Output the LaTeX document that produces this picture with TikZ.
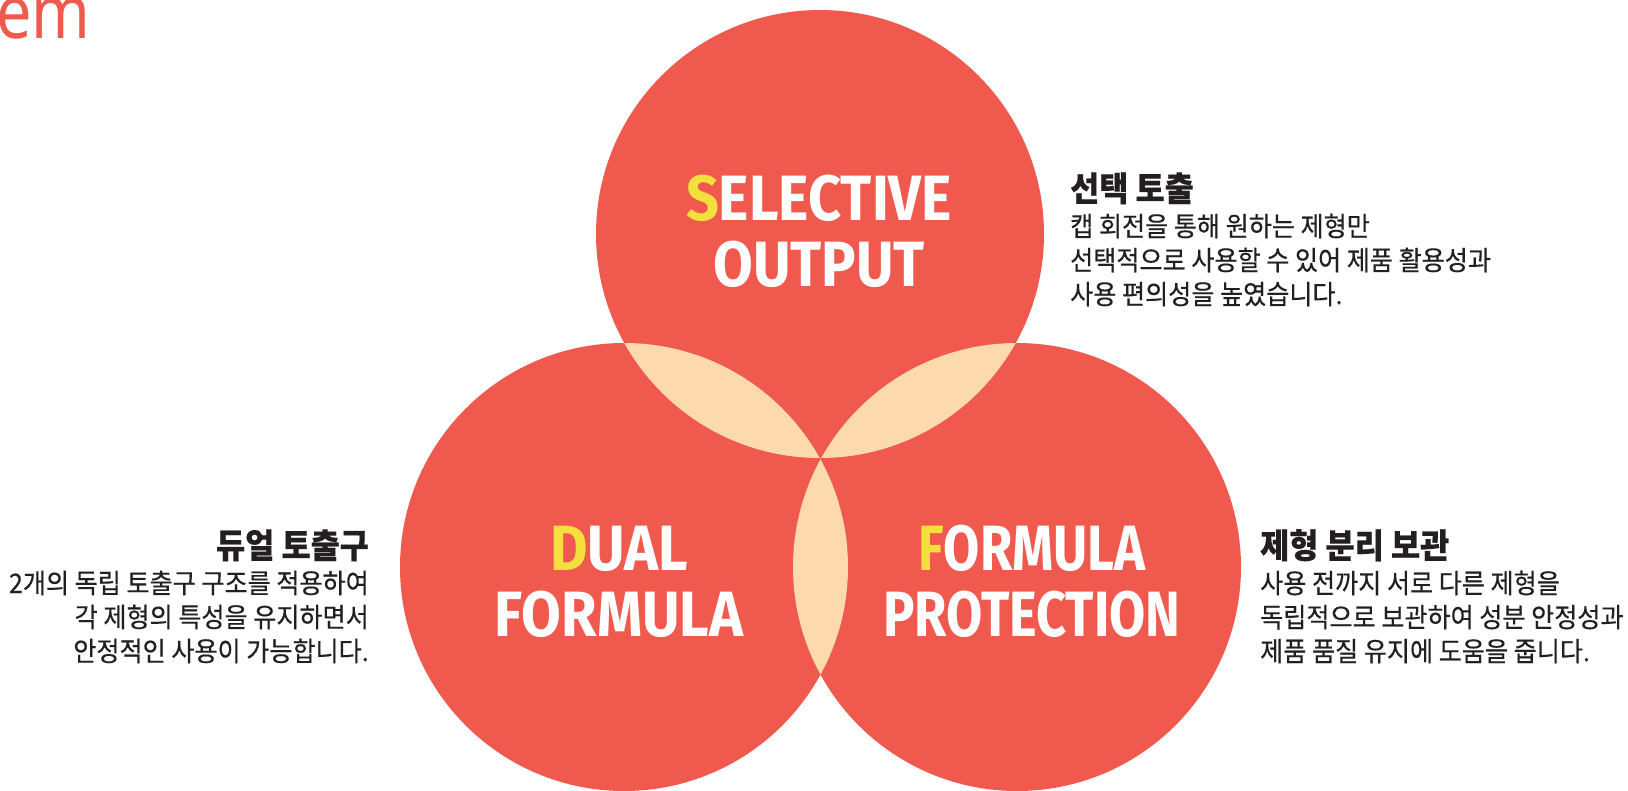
\documentclass[tikz,border=0pt]{standalone}
\usepackage{fontspec}
\usepackage{tikz}
\usetikzlibrary{positioning}
\newfontfamily\krfont[FakeStretch=0.93,FakeBold=0.4]{Noto Sans CJK KR}
\newfontfamily\titlefont[FakeStretch=0.9]{Fira Sans}
\newfontfamily\titlefontnarrow[FakeStretch=0.82]{Fira Sans}
\newfontfamily\logofont[FakeStretch=0.85]{Noto Sans}
\definecolor{vennred}{HTML}{F05A4E}
\definecolor{vennpeach}{HTML}{FCDAAE}
\definecolor{vennyellow}{HTML}{F4E03C}
\definecolor{textdark}{HTML}{231F20}
\def\vennr{224pt}

\begin{document}
\begin{tikzpicture}[x=1pt,y=-1pt,
	title/.style={text=white,align=center,inner sep=0pt,font=\titlefont\bfseries\fontsize{64}{66}\selectfont},
	title narrow/.style={title,font=\titlefontnarrow\bfseries\fontsize{64}{66}\selectfont},
	head/.style={text=textdark,inner sep=0pt,font=\krfont\bfseries\fontsize{34}{36}\selectfont},
	body/.style={text=textdark,inner sep=0pt,font=\krfont\fontsize{27}{34}\selectfont}]
	\useasboundingbox (0,0) rectangle (1628,790);
	\coordinate (top_c) at (820,234);
	\coordinate (left_c) at (624,567);
	\coordinate (right_c) at (1017,567);
	\fill[vennred] (top_c) circle[radius=\vennr] (left_c) circle[radius=\vennr] (right_c) circle[radius=\vennr];
	\begin{scope}
	  \clip (top_c) circle[radius=\vennr];
	  \fill[vennpeach] (left_c) circle[radius=\vennr] (right_c) circle[radius=\vennr];
	\end{scope}
	\begin{scope}
	  \clip (left_c) circle[radius=\vennr];
	  \fill[vennpeach] (right_c) circle[radius=\vennr];
	\end{scope}
	\begin{scope}
	  \clip (top_c) circle[radius=\vennr];
	  \clip (left_c) circle[radius=\vennr];
	  \fill[vennred] (right_c) circle[radius=\vennr];
	\end{scope}
	\node[anchor=base west,inner sep=0pt,text=vennred,font=\logofont\fontsize{74}{74}\selectfont] (logo) at (-4,38) {em};
	\node[title,anchor=base] (selective_title) at (819,286) {\textcolor{vennyellow}{S}ELECTIVE\\OUTPUT};
	\node[title,anchor=base] (dual_title) at (619,636) {\textcolor{vennyellow}{D}UAL\\FORMULA};
	\node[title narrow,anchor=base] (formula_title) at (1032,636) {\textcolor{vennyellow}{F}ORMULA\\PROTECTION};
	\node[head,anchor=base west] (selective_head) at (1070,201) {선택 토출};
	\node[body,align=left,below right=9pt and 0pt of selective_head.south west] (selective_text)
	  {캡 회전을 통해 원하는 제형만\\선택적으로 사용할 수 있어 제품 활용성과\\사용 편의성을 높였습니다.};
	\node[head,anchor=base east] (dual_head) at (369,558) {듀얼 토출구};
	\node[body,align=right,below left=9pt and 0pt of dual_head.south east] (dual_text)
	  {2개의 독립 토출구 구조를 적용하여\\각 제형의 특성을 유지하면서\\안정적인 사용이 가능합니다.};
	\node[head,anchor=base west] (formula_head) at (1260,558) {제형 분리 보관};
	\node[body,align=left,below right=9pt and 0pt of formula_head.south west] (formula_text)
	  {사용 전까지 서로 다른 제형을\\독립적으로 보관하여 성분 안정성과\\제품 품질 유지에 도움을 줍니다.};
\end{tikzpicture}
\end{document}
